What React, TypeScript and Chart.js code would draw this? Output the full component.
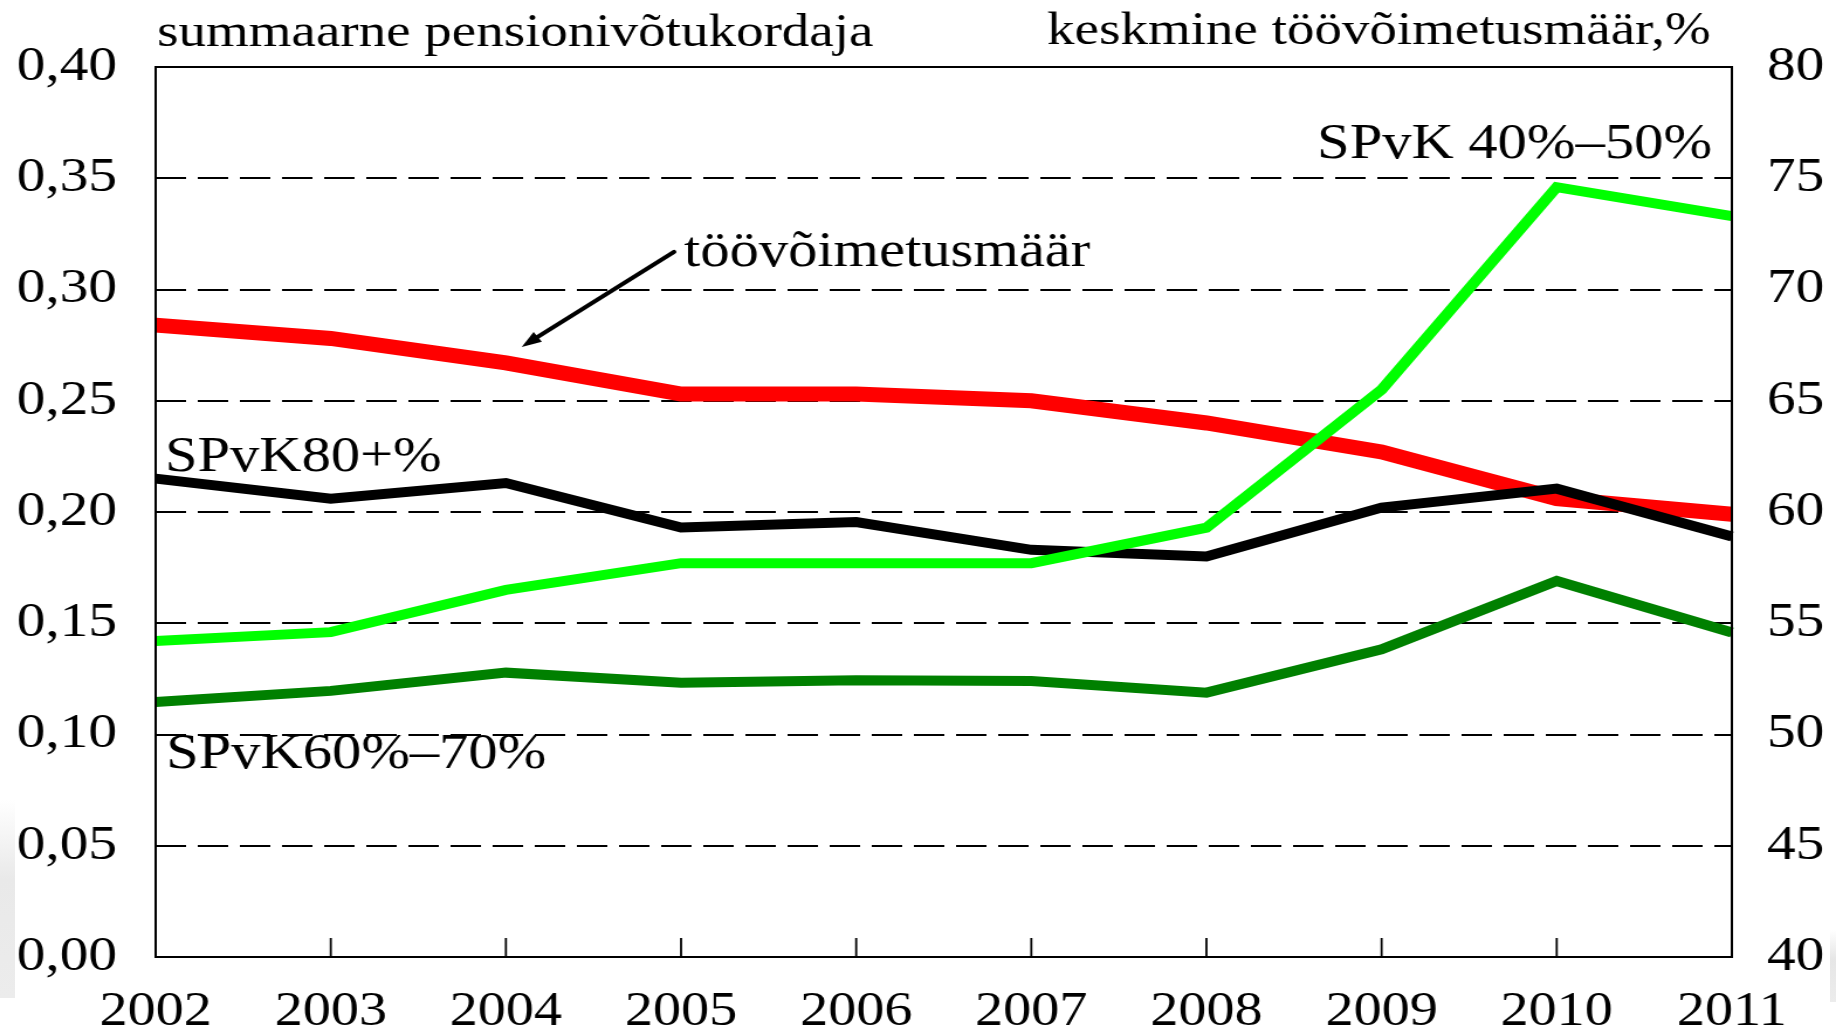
import React, { useEffect, useRef } from "react";
import { Chart, registerables } from "chart.js";

Chart.register(...registerables);

// ---- data ----
const years = ["2002", "2003", "2004", "2005", "2006", "2007", "2008", "2009", "2010", "2011"];
const spvk4050 = [0.142, 0.146, 0.165, 0.177, 0.177, 0.177, 0.193, 0.255, 0.346, 0.333];
const spvk80 = [0.215, 0.206, 0.213, 0.193, 0.1955, 0.183, 0.18, 0.202, 0.2105, 0.189];
const spvk6070 = [0.1146, 0.1196, 0.1278, 0.1233, 0.1244, 0.124, 0.1188, 0.1383, 0.169, 0.1458];
const toovoimetus = [68.4, 67.8, 66.7, 65.3, 65.3, 65.0, 64.0, 62.7, 60.6, 59.9];
const leftTickLabels = ["0,00", "0,05", "0,10", "0,15", "0,20", "0,25", "0,30", "0,35", "0,40"];
const rightTickLabels = ["40", "45", "50", "55", "60", "65", "70", "75", "80"];

// annotations: text, x position (category index), baseline (left-axis value), font size
const annotations = [
  { text: "summaarne pensionivõtukordaja", x: 0.008, y: 0.4093, size: 47 },
  { text: "keskmine töövõimetusmäär,%", x: 5.09, y: 0.4105, size: 47 },
  { text: "SPvK 40%\u201350%", x: 6.632, y: 0.359, size: 50 },
  { text: "töövõimetusmäär", x: 3.017, y: 0.3104, size: 50 },
  { text: "SPvK80+%", x: 0.053, y: 0.2183, size: 50 },
  { text: "SPvK60%\u201370%", x: 0.06, y: 0.0848, size: 50 },
];
const arrowFrom = { x: 2.96, y: 0.3169 };
const arrowTo = { x: 2.09, y: 0.2742 };

const FULL_W = 1836;
const H = 1029;
const W = 1569;
const SERIF = '"Liberation Serif", "Times New Roman", serif';

const decorPlugin = {
  id: "decor",
  afterDatasetsDraw(chart: any) {
    const { ctx, chartArea } = chart;
    const xs = chart.scales.x;
    const ys = chart.scales.y;
    ctx.save();
    // frame
    ctx.strokeStyle = "#000";
    ctx.lineWidth = 2;
    ctx.setLineDash([]);
    ctx.strokeRect(chartArea.left, chartArea.top, chartArea.right - chartArea.left, chartArea.bottom - chartArea.top);
    // inner tick marks on x axis
    ctx.lineWidth = 1.8;
    for (let i = 1; i < years.length - 1; i++) {
      const px = xs.getPixelForTick(i);
      ctx.beginPath();
      ctx.moveTo(px, chartArea.bottom);
      ctx.lineTo(px, chartArea.bottom - 19);
      ctx.stroke();
    }
    // texts
    ctx.fillStyle = "#000";
    ctx.textAlign = "left";
    ctx.textBaseline = "alphabetic";
    for (const a of annotations) {
      ctx.font = `${a.size}px ${SERIF}`;
      ctx.fillText(a.text, xs.getPixelForValue(a.x), ys.getPixelForValue(a.y));
    }
    // arrow
    const x1 = xs.getPixelForValue(arrowFrom.x);
    const y1 = ys.getPixelForValue(arrowFrom.y);
    const x2 = xs.getPixelForValue(arrowTo.x);
    const y2 = ys.getPixelForValue(arrowTo.y);
    const ang = Math.atan2(y2 - y1, x2 - x1);
    const headLen = 17;
    const headW = 6;
    ctx.lineWidth = 4;
    ctx.lineCap = "round";
    ctx.beginPath();
    ctx.moveTo(x1, y1);
    ctx.lineTo(x2 - Math.cos(ang) * headLen * 0.8, y2 - Math.sin(ang) * headLen * 0.8);
    ctx.stroke();
    ctx.beginPath();
    ctx.moveTo(x2, y2);
    ctx.lineTo(
      x2 - Math.cos(ang) * headLen + Math.sin(ang) * headW,
      y2 - Math.sin(ang) * headLen - Math.cos(ang) * headW
    );
    ctx.lineTo(
      x2 - Math.cos(ang) * headLen - Math.sin(ang) * headW,
      y2 - Math.sin(ang) * headLen + Math.cos(ang) * headW
    );
    ctx.closePath();
    ctx.fill();
    ctx.restore();
  },
};

export default function App() {
  const canvasRef = useRef<HTMLCanvasElement | null>(null);

  useEffect(() => {
    const canvas = canvasRef.current;
    if (!canvas) return;
    const chart = new Chart(canvas, {
      type: "line",
      data: {
        labels: years,
        datasets: [
          {
            label: "SPvK 40%–50%",
            data: spvk4050,
            borderColor: "#00ff00",
            borderWidth: 10,
            yAxisID: "y",
          },
          {
            label: "SPvK80+%",
            data: spvk80,
            borderColor: "#000000",
            borderWidth: 10,
            yAxisID: "y",
          },
          {
            label: "SPvK60%–70%",
            data: spvk6070,
            borderColor: "#008000",
            borderWidth: 10,
            yAxisID: "y",
          },
          {
            label: "töövõimetusmäär",
            data: toovoimetus,
            borderColor: "#ff0000",
            borderWidth: 15,
            yAxisID: "y1",
          },
        ],
      },
      options: {
        animation: false,
        responsive: false,
        devicePixelRatio: 1,
        layout: { padding: { top: 67, left: 0, right: 0, bottom: 0 } },
        plugins: {
          legend: { display: false },
          tooltip: { enabled: false },
        },
        elements: {
          point: { radius: 0, hoverRadius: 0 },
          line: { tension: 0, fill: false },
        },
        scales: {
          x: {
            type: "category",
            offset: false,
            grid: { display: false, drawTicks: false },
            border: { display: false },
            ticks: {
              color: "#000",
              font: { family: SERIF, size: 48 },
              padding: 27,
              maxRotation: 0,
              autoSkip: false,
            },
            afterFit: (s: any) => {
              s.height = 72;
            },
          },
          y: {
            type: "linear",
            position: "left",
            min: 0,
            max: 0.4,
            ticks: {
              stepSize: 0.05,
              color: "#000",
              font: { family: SERIF, size: 49 },
              padding: 33,
              callback: (_v: any, i: number) => leftTickLabels[i],
            },
            grid: {
              drawTicks: false,
              lineWidth: 2,
              color: (c: any) => (c.index === 0 || c.index === 8 ? "rgba(0,0,0,0)" : "#000"),
            },
            border: { display: false, dash: [26, 10] },
            afterFit: (s: any) => {
              s.width = 133;
            },
          },
          y1: {
            type: "linear",
            position: "right",
            min: 40,
            max: 80,
            ticks: {
              stepSize: 5,
              color: "#000",
              font: { family: SERIF, size: 49 },
              padding: 30,
              callback: (_v: any, i: number) => rightTickLabels[i],
            },
            grid: { display: false, drawTicks: false },
            border: { display: false },
            afterFit: (s: any) => {
              s.width = W - 1480;
            },
          },
        },
      },
      plugins: [decorPlugin],
    });
    return () => chart.destroy();
  }, []);

  return (
    <div
      style={{
        position: "absolute",
        left: 0,
        top: 0,
        width: FULL_W,
        height: H,
        overflow: "hidden",
        background: "#fff",
      }}
    >
      <div
        style={{
          position: "absolute",
          left: 0,
          top: 800,
          width: 15,
          height: 198,
          background: "linear-gradient(to bottom, rgba(225,225,225,0), #e9e9e9 40%, #ececec)",
        }}
      />
      <div
        style={{
          position: "absolute",
          right: 0,
          top: 930,
          width: 6,
          height: 72,
          background: "linear-gradient(to bottom, rgba(225,225,225,0), #e6e6e6 40%, #ececec)",
        }}
      />
      <div
        style={{
          position: "relative",
          width: W,
          height: H,
          transform: `scaleX(${FULL_W / W})`,
          transformOrigin: "0 0",
        }}
      >
        <canvas ref={canvasRef} width={W} height={H} />
      </div>
    </div>
  );
}
